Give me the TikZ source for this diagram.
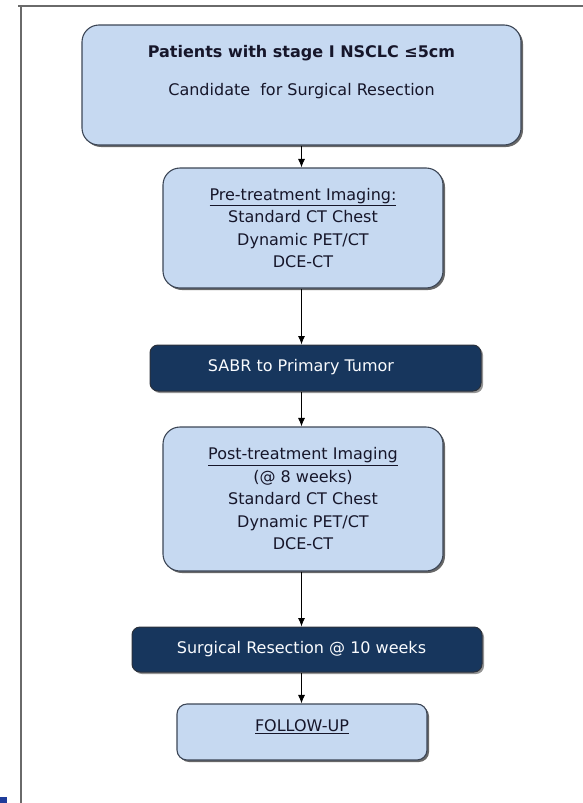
\documentclass[tikz,border=0pt]{standalone}
\usepackage{fontspec}
\setmainfont{DejaVu Sans}
\usetikzlibrary{arrows.meta,shadows}
\definecolor{boxfill}{HTML}{C6D9F1}
\definecolor{boxline}{HTML}{3C4656}
\definecolor{navyfill}{HTML}{17365D}
\definecolor{boxtext}{HTML}{16162A}
\definecolor{framegray}{HTML}{6A6A6A}
\definecolor{cornerblue}{HTML}{1F3C9A}
\tikzset{
	lightbox/.style={draw=boxline, line width=1.1pt, fill=boxfill, rounded corners=17pt,
		drop shadow={shadow xshift=2pt, shadow yshift=-2pt, fill=black!70, opacity=0.85},
		text=boxtext, align=center, inner sep=0pt, font=\fontsize{16}{22.5}\selectfont},
	darkbox/.style={draw=boxline!70!black, line width=1pt, fill=navyfill, rounded corners=8pt,
		drop shadow={shadow xshift=2pt, shadow yshift=-2pt, fill=black!60, opacity=0.7}},
	boxlabel/.style={text=boxtext, align=center, inner sep=0pt, font=\fontsize{16}{22.5}\selectfont},
	darklabel/.style={boxlabel, text=white!90!boxfill},
	flow/.style={draw=black, line width=0.9pt, -{Latex[length=8.5pt,width=7pt]}},
}
\begin{document}
\begin{tikzpicture}[x=1pt, y=-1pt]
	\useasboundingbox (0, 0) rectangle (583, 803);
	\draw[framegray, line width=1.6pt] (18, 6) -- (583, 6);
	\draw[framegray, line width=1.6pt] (21, 6) -- (21, 803);
	\fill[cornerblue] (0, 797) rectangle (7, 803);
	\node[lightbox, minimum width=439pt, minimum height=120pt](patients) at (301.5, 85){};
	\node[boxlabel](patientsText) at (301.5, 72){\textbf{Patients with stage I NSCLC ≤5cm}\\[15.5pt]Candidate\ \ for Surgical Resection};
	\node[lightbox, minimum width=280pt, minimum height=120pt](preImaging) at (303, 228){\underline{Pre-treatment Imaging:}\\Standard CT Chest\\Dynamic PET/CT\\DCE-CT};
	\node[darkbox, minimum width=331pt, minimum height=46pt](sabr) at (315.5, 368){};
	\node[darklabel](sabrText) at (301, 367){SABR to Primary Tumor};
	\node[lightbox, minimum width=280pt, minimum height=144pt](postImaging) at (303, 499){\underline{Post-treatment Imaging}\\(@ 8 weeks)\\Standard CT Chest\\Dynamic PET/CT\\DCE-CT};
	\node[darkbox, minimum width=350pt, minimum height=45pt](resection) at (307, 649.5){};
	\node[darklabel](resectionText) at (301.5, 649){Surgical Resection @ 10 weeks};
	\node[lightbox, rounded corners=10pt, minimum width=250pt, minimum height=56pt](followUp) at (302, 732){};
	\node[boxlabel](followUpText) at (302, 727){\underline{FOLLOW-UP}};
	\draw[flow] (patients.south) -- (patients.south |- preImaging.north);
	\draw[flow] (patients.south |- preImaging.south) -- (patients.south |- sabr.north);
	\draw[flow] (patients.south |- sabr.south) -- (patients.south |- postImaging.north);
	\draw[flow] (patients.south |- postImaging.south) -- (patients.south |- resection.north);
	\draw[flow] (patients.south |- resection.south) -- (patients.south |- followUp.north);
\end{tikzpicture}
\end{document}
